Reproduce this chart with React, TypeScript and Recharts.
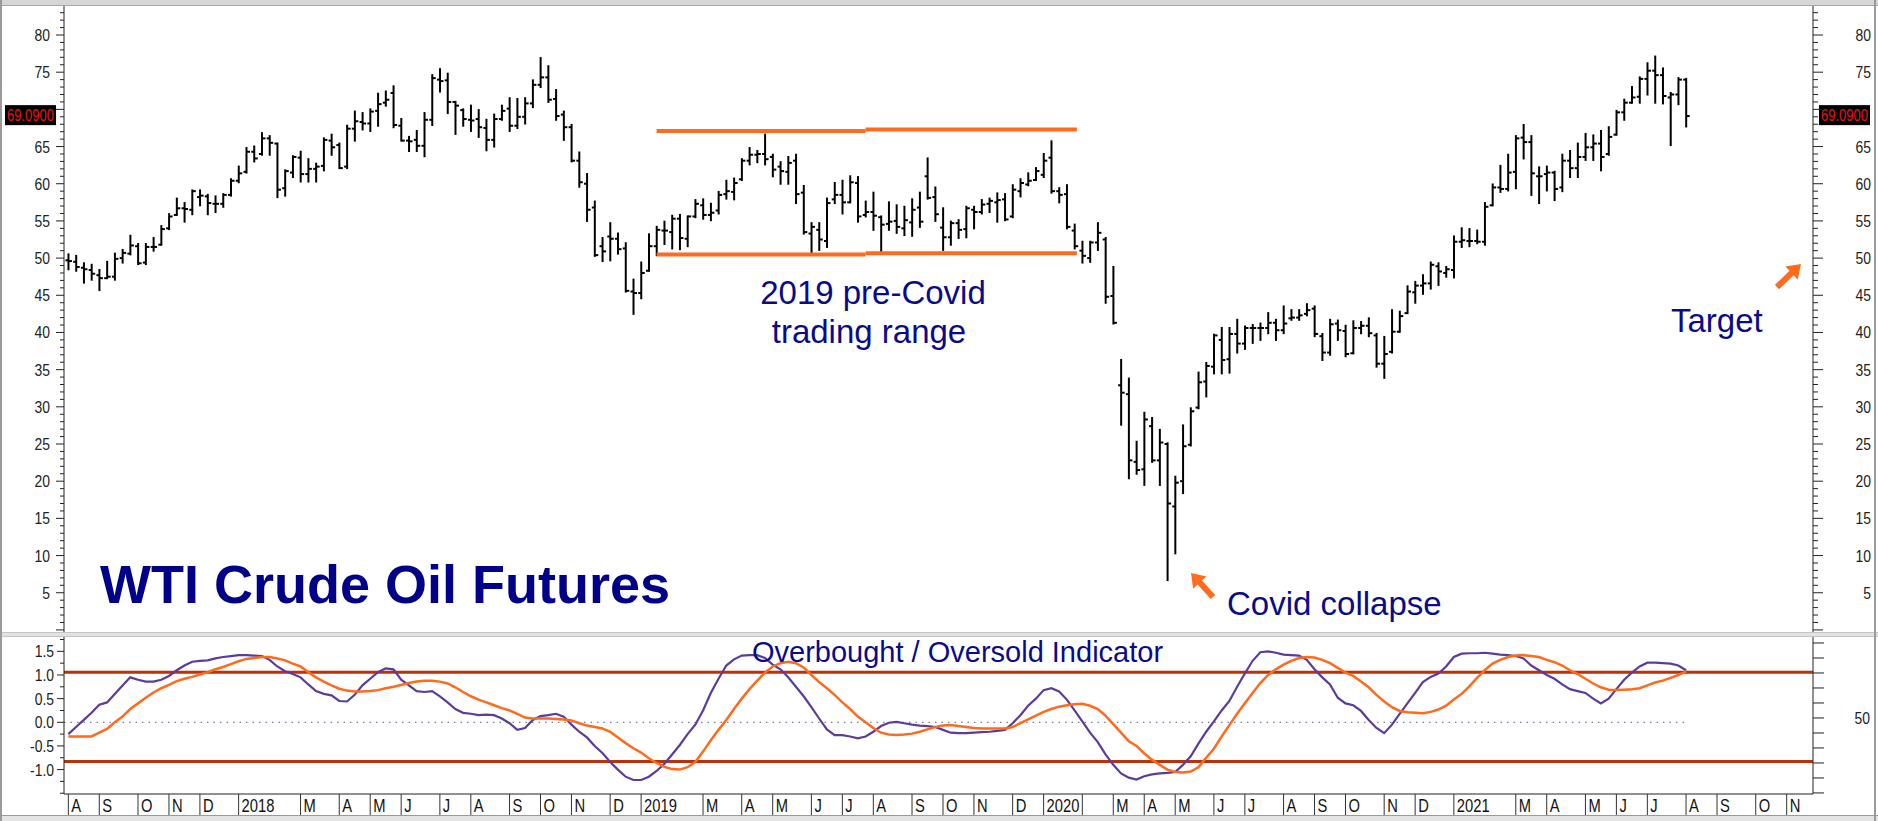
import React from 'react';
import { ComposedChart, Bar, Line, XAxis, YAxis, ReferenceLine } from 'recharts';

// weekly WTI bars, Aug 2017 -> Aug 2021 (index 0 = first week of Aug 2017)
const opens = [
  49.7, 49.5, 48.7, 48.4, 47.7, 47.3, 47.5, 50.0, 50.6, 51.6,
  49.4, 51.5, 51.8, 54.0, 55.8, 56.7, 56.5, 58.2, 58.3, 57.3,
  57.3, 58.5, 60.4, 61.6, 64.3, 64.0, 66.1, 65.4, 59.4, 61.5,
  63.5, 61.3, 62.0, 62.4, 65.8, 65.2, 62.3, 67.4, 68.3, 68.1,
  69.8, 70.9, 72.2, 67.8, 65.8, 65.9, 65.1, 68.6, 74.0, 73.9,
  71.0, 69.9, 68.6, 68.7, 67.5, 65.9, 68.7, 70.1, 67.8, 69.0,
  70.8, 73.3, 74.3, 71.4, 69.3, 67.6, 63.1, 60.0, 56.8, 51.6,
  52.9, 52.6, 51.3, 45.5, 45.3, 48.3, 51.6, 53.7, 53.5, 55.3,
  52.6, 55.6, 57.1, 55.8, 56.4, 58.6, 58.9, 60.6, 63.1, 63.9,
  64.0, 63.6, 62.3, 61.6, 63.1, 58.8, 53.3, 53.8, 52.3, 57.9,
  58.5, 57.5, 60.1, 55.8, 56.2, 55.5, 54.6, 55.0, 54.0, 54.8,
  56.8, 61.0, 58.2, 54.1, 52.8, 54.7, 53.9, 56.5, 56.2, 57.3,
  57.5, 57.9, 55.6, 59.0, 59.9, 60.5, 61.2, 63.5, 59.0, 58.6,
  53.7, 51.0, 50.0, 52.1, 52.5, 44.9, 32.9, 31.7, 22.6, 21.6,
  27.4, 22.8, 25.0, 16.6, 20.0, 24.9, 29.9, 33.4, 35.4, 39.0,
  36.4, 39.8, 38.5, 40.6, 40.6, 40.6, 41.3, 40.3, 41.9, 42.0,
  42.5, 43.2, 39.5, 37.3, 41.2, 40.2, 37.2, 40.6, 40.9, 39.6,
  35.8, 37.4, 40.1, 42.6, 45.4, 46.3, 46.6, 48.9, 48.0, 48.4,
  52.2, 52.3, 52.3, 52.2, 57.1, 59.5, 59.3, 61.6, 66.2, 65.6,
  61.0, 61.3, 61.5, 59.5, 63.1, 62.1, 63.6, 64.9, 65.4, 64.0,
  66.6, 69.6, 70.9, 71.7, 74.1, 75.2, 74.6, 71.6, 72.0, 74.0,
];
const highs = [
  50.5, 50.3, 49.3, 49.1, 48.4, 49.5, 50.6, 51.1, 53.0, 51.9,
  51.9, 52.7, 54.3, 55.9, 58.0, 57.4, 59.1, 59.1, 58.5, 58.3,
  58.6, 60.6, 62.3, 64.8, 65.0, 66.8, 66.4, 65.4, 61.8, 63.7,
  64.3, 63.3, 62.7, 66.1, 66.6, 65.4, 67.8, 69.7, 69.5, 70.0,
  72.1, 72.4, 73.1, 68.7, 66.3, 67.1, 69.5, 74.6, 75.4, 74.8,
  71.0, 70.0, 70.5, 69.9, 68.6, 69.3, 70.5, 71.5, 71.4, 71.5,
  73.9, 76.9, 75.8, 72.6, 69.7, 67.9, 64.2, 61.3, 57.6, 52.7,
  54.7, 53.3, 52.0, 47.1, 49.4, 53.2, 54.2, 54.9, 55.7, 55.8,
  55.6, 57.8, 57.9, 57.3, 58.9, 60.4, 60.7, 63.3, 64.8, 64.4,
  66.6, 63.9, 62.9, 63.6, 63.9, 59.7, 54.7, 54.7, 58.0, 60.1,
  60.4, 61.0, 60.9, 57.6, 58.8, 55.6, 57.5, 57.1, 56.9, 57.9,
  58.8, 63.4, 59.5, 56.7, 54.9, 55.1, 56.9, 56.9, 57.8, 58.0,
  58.7, 58.6, 59.8, 60.6, 61.4, 62.1, 64.0, 65.7, 59.4, 59.8,
  54.5, 52.2, 52.2, 54.7, 52.7, 48.8, 36.3, 33.8, 25.3, 29.2,
  28.5, 26.9, 25.1, 20.6, 27.5, 29.8, 34.6, 35.9, 39.7, 40.6,
  40.6, 41.7, 40.8, 41.0, 41.2, 42.6, 41.7, 43.5, 43.0, 43.0,
  43.8, 43.5, 39.8, 41.7, 41.6, 40.9, 41.5, 41.4, 41.9, 39.8,
  39.4, 43.0, 42.8, 46.2, 46.8, 47.7, 49.4, 49.3, 48.8, 52.9,
  54.0, 53.9, 53.7, 57.4, 59.9, 62.4, 63.9, 66.4, 67.9, 66.4,
  62.2, 62.3, 61.6, 63.9, 64.4, 65.4, 66.7, 66.5, 67.1, 67.6,
  69.8, 71.3, 73.0, 74.3, 76.2, 77.1, 75.5, 72.2, 74.2, 74.1,
];
const lows = [
  48.5, 48.3, 46.7, 47.1, 45.7, 47.3, 47.1, 49.4, 50.5, 49.2,
  49.2, 51.0, 51.8, 53.9, 55.8, 54.9, 55.9, 57.1, 55.9, 56.2,
  56.9, 58.4, 60.2, 61.5, 63.0, 63.9, 63.9, 58.2, 58.4, 60.9,
  60.3, 60.3, 60.3, 61.8, 63.9, 62.1, 62.1, 65.8, 67.3, 67.1,
  67.8, 70.5, 67.6, 65.8, 64.4, 64.4, 63.7, 67.9, 72.4, 69.5,
  66.7, 67.8, 67.1, 66.3, 64.5, 65.0, 68.6, 67.1, 67.5, 68.1,
  70.3, 73.0, 71.0, 68.6, 65.9, 63.0, 59.6, 55.0, 50.3, 49.6,
  49.7, 50.6, 45.5, 42.5, 44.6, 48.3, 50.4, 51.9, 51.3, 51.2,
  51.6, 55.5, 55.3, 55.1, 56.0, 58.0, 57.9, 60.5, 62.6, 62.9,
  62.6, 61.0, 60.0, 60.0, 57.4, 53.3, 50.7, 51.1, 51.5, 57.4,
  56.0, 57.5, 54.9, 55.6, 53.8, 50.7, 53.8, 53.4, 53.1, 53.0,
  54.2, 58.0, 55.0, 51.1, 51.8, 52.7, 52.8, 54.0, 56.0, 56.2,
  54.9, 55.1, 55.5, 58.3, 59.8, 60.5, 60.9, 58.8, 57.5, 54.0,
  51.3, 49.4, 49.5, 51.1, 44.0, 41.2, 27.6, 20.4, 21.0, 19.5,
  22.6, 19.5, 6.7, 10.3, 18.4, 24.8, 29.8, 31.4, 34.5, 34.5,
  34.6, 37.3, 37.8, 38.6, 39.0, 39.9, 39.0, 39.9, 41.7, 41.7,
  42.3, 39.5, 36.3, 37.0, 39.0, 36.8, 37.2, 39.9, 39.5, 35.4,
  33.9, 37.3, 40.1, 42.6, 44.0, 45.2, 45.9, 46.4, 47.5, 47.4,
  51.5, 51.6, 52.0, 51.8, 57.1, 58.9, 59.1, 59.4, 63.4, 58.5,
  57.4, 59.1, 57.8, 59.0, 60.9, 60.9, 63.2, 63.2, 61.8, 63.9,
  66.6, 68.6, 70.9, 70.9, 72.0, 70.9, 70.8, 65.2, 70.7, 67.7,
];
const closes = [
  49.6, 48.8, 48.5, 47.9, 47.3, 47.5, 49.9, 50.7, 51.7, 49.3,
  51.5, 51.5, 53.9, 55.6, 56.7, 56.6, 59.0, 58.4, 57.4, 57.3,
  58.5, 60.4, 61.4, 64.3, 63.4, 66.1, 65.5, 59.2, 61.7, 63.6,
  61.3, 62.0, 62.3, 65.9, 64.9, 62.1, 67.4, 68.4, 68.1, 69.7,
  70.7, 71.3, 67.9, 65.8, 65.7, 65.1, 68.6, 74.2, 73.8, 71.0,
  70.5, 68.7, 68.5, 67.6, 65.9, 68.7, 69.8, 67.8, 69.0, 70.8,
  73.3, 74.3, 71.3, 69.1, 67.6, 63.1, 60.2, 56.5, 50.4, 50.9,
  52.6, 51.2, 45.6, 45.3, 48.0, 51.6, 53.8, 53.7, 55.3, 52.7,
  55.6, 57.3, 55.8, 56.1, 58.5, 59.0, 60.1, 63.1, 63.9, 64.0,
  63.3, 61.9, 61.7, 62.8, 58.6, 53.5, 54.2, 52.5, 57.4, 58.5,
  57.5, 60.2, 55.6, 56.2, 55.7, 54.5, 54.9, 54.2, 55.1, 56.5,
  54.9, 58.1, 55.9, 52.8, 54.7, 53.8, 56.7, 56.2, 57.2, 57.7,
  57.8, 55.2, 59.2, 60.1, 60.4, 61.7, 63.1, 59.0, 58.5, 54.2,
  51.6, 50.3, 52.1, 53.4, 44.8, 41.3, 31.9, 22.8, 21.5, 28.3,
  22.8, 25.2, 17.0, 19.8, 24.7, 29.4, 33.3, 35.5, 39.6, 36.3,
  39.8, 38.5, 40.6, 40.6, 40.6, 41.3, 40.3, 41.2, 42.0, 42.3,
  43.0, 39.8, 37.3, 41.1, 40.3, 37.1, 40.6, 40.9, 39.9, 35.8,
  37.1, 40.1, 42.2, 45.5, 46.3, 46.6, 49.1, 48.2, 48.5, 52.2,
  52.4, 52.3, 52.2, 56.9, 59.5, 59.3, 61.5, 66.1, 65.6, 61.4,
  61.0, 61.5, 59.3, 63.1, 62.1, 63.6, 64.9, 65.4, 63.6, 66.3,
  69.6, 70.9, 71.6, 74.1, 75.2, 74.6, 71.8, 72.0, 74.0, 69.1,
];

// overbought / oversold indicator (fast = purple, slow = orange)
const fastLine = [
  -0.25, -0.10, 0.05, 0.20, 0.37, 0.42, 0.60, 0.78, 0.95, 0.90,
  0.86, 0.86, 0.90, 0.98, 1.10, 1.20, 1.28, 1.30, 1.31, 1.35,
  1.38, 1.40, 1.42, 1.42, 1.41, 1.40, 1.32, 1.18, 1.08, 1.02,
  0.95, 0.80, 0.66, 0.60, 0.57, 0.45, 0.44, 0.58, 0.78, 0.92,
  1.06, 1.14, 1.12, 0.90, 0.78, 0.66, 0.64, 0.66, 0.55, 0.42,
  0.28, 0.20, 0.18, 0.15, 0.16, 0.15, 0.08, -0.02, -0.16, -0.12,
  0.05, 0.13, 0.15, 0.18, 0.12, -0.05, -0.20, -0.32, -0.50, -0.65,
  -0.84, -1.00, -1.15, -1.22, -1.22, -1.15, -1.03, -0.88, -0.68, -0.48,
  -0.25, -0.05, 0.25, 0.62, 0.92, 1.20, 1.33, 1.41, 1.42, 1.42,
  1.36, 1.22, 1.12, 0.95, 0.75, 0.55, 0.32, 0.08, -0.15, -0.27,
  -0.27, -0.30, -0.34, -0.30, -0.20, -0.08, -0.01, 0.01, -0.02, -0.05,
  -0.07, -0.08, -0.10, -0.16, -0.22, -0.23, -0.23, -0.22, -0.21, -0.20,
  -0.18, -0.16, -0.02, 0.15, 0.35, 0.50, 0.68, 0.72, 0.65, 0.48,
  0.25, 0.02, -0.22, -0.42, -0.68, -0.90, -1.08, -1.17, -1.21, -1.14,
  -1.10, -1.08, -1.07, -1.05, -0.90, -0.72, -0.45, -0.20, 0.02, 0.25,
  0.45, 0.75, 1.03, 1.30, 1.48, 1.50, 1.47, 1.43, 1.42, 1.41,
  1.32, 1.12, 0.95, 0.80, 0.52, 0.40, 0.36, 0.24, 0.05, -0.12,
  -0.23, -0.05, 0.18, 0.40, 0.62, 0.85, 0.96, 1.03, 1.18, 1.38,
  1.45, 1.46, 1.46, 1.47, 1.45, 1.43, 1.42, 1.40, 1.35, 1.20,
  1.10, 1.00, 0.92, 0.80, 0.70, 0.66, 0.62, 0.50, 0.40, 0.50,
  0.70, 0.90, 1.05, 1.18, 1.26, 1.26, 1.25, 1.24, 1.20, 1.10,
];
const slowLine = [
  -0.30, -0.30, -0.30, -0.30, -0.22, -0.14, 0.00, 0.12, 0.28, 0.40,
  0.52, 0.63, 0.72, 0.79, 0.87, 0.92, 0.96, 1.01, 1.06, 1.12,
  1.17, 1.23, 1.29, 1.34, 1.36, 1.38, 1.38, 1.35, 1.31, 1.24,
  1.18, 1.06, 0.95, 0.86, 0.78, 0.71, 0.67, 0.65, 0.65, 0.66,
  0.68, 0.72, 0.75, 0.79, 0.83, 0.86, 0.88, 0.88, 0.86, 0.82,
  0.74, 0.64, 0.55, 0.48, 0.42, 0.36, 0.30, 0.25, 0.18, 0.10,
  0.08, 0.08, 0.08, 0.07, 0.06, 0.04, -0.02, -0.07, -0.10, -0.13,
  -0.20, -0.32, -0.44, -0.55, -0.64, -0.76, -0.86, -0.94, -0.99, -1.00,
  -0.95, -0.84, -0.62, -0.38, -0.16, 0.05, 0.28, 0.50, 0.70, 0.88,
  1.05, 1.18, 1.25, 1.28, 1.25, 1.16, 1.00, 0.85, 0.72, 0.58,
  0.42, 0.28, 0.12, 0.00, -0.12, -0.22, -0.26, -0.27, -0.26, -0.24,
  -0.20, -0.15, -0.10, -0.07, -0.06, -0.08, -0.10, -0.12, -0.13, -0.13,
  -0.13, -0.13, -0.10, -0.02, 0.06, 0.14, 0.22, 0.28, 0.33, 0.36,
  0.38, 0.39, 0.35, 0.28, 0.14, -0.04, -0.22, -0.40, -0.50, -0.66,
  -0.79, -0.90, -1.00, -1.05, -1.06, -1.04, -0.95, -0.75, -0.56, -0.30,
  -0.06, 0.18, 0.40, 0.62, 0.83, 1.00, 1.12, 1.22, 1.30, 1.36,
  1.38, 1.37, 1.32, 1.25, 1.15, 1.05, 0.98, 0.86, 0.74, 0.58,
  0.44, 0.32, 0.24, 0.21, 0.20, 0.19, 0.22, 0.27, 0.35, 0.48,
  0.60, 0.76, 0.94, 1.10, 1.24, 1.32, 1.38, 1.41, 1.42, 1.40,
  1.38, 1.32, 1.27, 1.20, 1.10, 1.02, 0.92, 0.82, 0.74, 0.69,
  0.68, 0.69, 0.70, 0.72, 0.78, 0.84, 0.88, 0.94, 1.00, 1.07,
];

// month separators on the time axis (bar index where each month starts)
const monthStarts = [
  0, 4, 9, 13, 17, 22, 30, 35, 39, 43, 48, 52, 57, 61, 65, 70,
  74, 82, 87, 91, 96, 100, 104, 109, 113, 117, 122,
  126, 131, 135, 139, 143, 148, 152, 157, 161, 165, 170, 174,
  179, 187, 191, 196, 200, 204, 209, 213, 218, 222,
];
const monthLabels = [
  'A', 'S', 'O', 'N', 'D', '2018', 'M', 'A', 'M', 'J', 'J', 'A', 'S', 'O', 'N', 'D',
  '2019', 'M', 'A', 'M', 'J', 'J', 'A', 'S', 'O', 'N', 'D',
  '2020', '', 'M', 'A', 'M', 'J', 'J', 'A', 'S', 'O', 'N', 'D',
  '2021', 'M', 'A', 'M', 'J', 'J', 'A', 'S', 'O', 'N',
];

// 2019 trading range lines (drawn in two pieces like the original)
const rangeLines = [
  { from: 76, to: 103, y: 67.1 },
  { from: 103, to: 130.3, y: 67.3 },
  { from: 76, to: 103, y: 50.5 },
  { from: 103, to: 130.3, y: 50.65 },
];
const lastPrice = 69.09;

const oscTicks = [-1.5, -1.25, -1, -0.75, -0.5, -0.25, 0, 0.25, 0.5, 0.75, 1, 1.25, 1.5, 1.75];
const oscLevels = [1.06, -0.83];
const pctTicks = [0, 10, 20, 30, 40, 50, 60, 70, 80, 90, 100];
const priceTicks = Array.from({ length: 84 }, (_, k) => k);

const X_DOMAIN: [number, number] = [-0.56, 225.4];
const PRICE_DOMAIN: [number, number] = [-0.28, 83.9];
const OSC_DOMAIN: [number, number] = [-1.516, 1.803];
const PCT_DOMAIN: [number, number] = [-0.7, 104];

const SANS = "'Liberation Sans', Arial, sans-serif";
const NAVY = '#0a0a8c';
const ORANGE = '#ff6a1c';
const PURPLE = '#5b3c9c';
const RED_LEVEL = '#b8320c';

const rows = opens.map((o, i) => ({
  i,
  open: o,
  high: highs[i],
  low: lows[i],
  close: closes[i],
  fast: fastLine[i],
  slow: slowLine[i],
}));

// narrow axis text (the original uses a condensed face)
const NarrowText = ({ x, y, anchor, size, fill, children }: any) => (
  <g transform={`translate(${x},${y}) scale(0.82,1)`}>
    <text x={0} y={0} textAnchor={anchor} fontSize={size} fontFamily={SANS} fill={fill}>{children}</text>
  </g>
);

const OhlcShape = (props: any) => {
  const { x, y, width, height, payload } = props;
  if (x == null || y == null || !payload) return null;
  const cx = x + width / 2;
  const top = Math.min(y, y + height);
  const bottom = Math.max(y, y + height);
  const span = payload.high - payload.low;
  const k = span > 0 ? (bottom - top) / span : 0;
  const yo = top + (payload.high - payload.open) * k;
  const yc = top + (payload.high - payload.close) * k;
  return (
    <g>
      <line x1={cx} x2={cx} y1={top - 1} y2={bottom + 1} stroke="#000" strokeWidth={2} />
      <line x1={cx - 3} x2={cx} y1={yo} y2={yo} stroke="#000" strokeWidth={2} />
      <line x1={cx} x2={cx + 3.5} y1={yc} y2={yc} stroke="#000" strokeWidth={2} />
    </g>
  );
};

const PriceTickLeft = ({ x, y, payload }: any) => {
  const v = payload.value;
  const major = v % 5 === 0;
  return (
    <g>
      <line x1={x - (major ? 8 : 4)} x2={x} y1={y} y2={y} stroke="#222" />
      {major && v > 0 && v !== 70 && (
        <NarrowText x={x - 14} y={y + 6} anchor="end" size={17} fill="#222">{v}</NarrowText>
      )}
    </g>
  );
};

const PriceTickRight = ({ x, y, payload }: any) => {
  const v = payload.value;
  const major = v % 5 === 0;
  return (
    <g>
      <line x1={x} x2={x + (major ? 10 : 5)} y1={y} y2={y} stroke="#222" />
      {major && v > 0 && v !== 70 && (
        <NarrowText x={x + 58} y={y + 6} anchor="end" size={17} fill="#222">{v}</NarrowText>
      )}
    </g>
  );
};

const OscTickLeft = ({ x, y, payload }: any) => {
  const v = payload.value;
  const labelled = Math.abs(v * 2 - Math.round(v * 2)) < 1e-6 && v <= 1.5 && v >= -1;
  return (
    <g>
      <line x1={x - (labelled ? 7 : 4)} x2={x} y1={y} y2={y} stroke="#222" />
      {labelled && (
        <NarrowText x={x - 10} y={y + 6} anchor="end" size={17} fill="#222">{v.toFixed(1)}</NarrowText>
      )}
    </g>
  );
};

const PctTickRight = ({ x, y, payload }: any) => {
  const v = payload.value;
  return (
    <g>
      <line x1={x} x2={x + 11} y1={y} y2={y} stroke="#222" />
      {v === 50 && (
        <NarrowText x={x + 57} y={y + 6} anchor="end" size={17} fill="#222">{v}</NarrowText>
      )}
    </g>
  );
};

const MonthTick = ({ x, y, payload }: any) => {
  const k = monthStarts.indexOf(payload.value);
  const label = k >= 0 ? monthLabels[k] : '';
  return (
    <g>
      <line x1={x} x2={x} y1={y} y2={y + 21} stroke="#333" />
      <NarrowText x={x + 3} y={y + 18} anchor="start" size={18} fill="#111">{label}</NarrowText>
    </g>
  );
};

const PriceMarker = (props: any) => {
  const { x1, x2, y1 } = props;
  if (x1 == null) return null;
  const boxes = [x1 - 59, x2 + 6];
  return (
    <g>
      {boxes.map((bx, k) => (
        <g key={k}>
          <rect x={bx} y={y1 - 11} width={51} height={20} fill="#000" />
          <text
            x={bx + 2}
            y={y1 + 5}
            textLength={47}
            lengthAdjust="spacingAndGlyphs"
            fontSize={16}
            fontFamily={SANS}
            fill="#e8141c"
          >
            {lastPrice.toFixed(4)}
          </text>
        </g>
      ))}
    </g>
  );
};

function arrowPoints(sx: number, sy: number, tx: number, ty: number) {
  const shaft = 6, headLen = 13, headW = 18;
  const dx = tx - sx, dy = ty - sy;
  const len = Math.hypot(dx, dy);
  const ux = dx / len, uy = dy / len;
  const px = -uy, py = ux;
  const bx = tx - ux * headLen, by = ty - uy * headLen;
  const pts = [
    [sx + px * shaft / 2, sy + py * shaft / 2],
    [bx + px * shaft / 2, by + py * shaft / 2],
    [bx + px * headW / 2, by + py * headW / 2],
    [tx, ty],
    [bx - px * headW / 2, by - py * headW / 2],
    [bx - px * shaft / 2, by - py * shaft / 2],
    [sx - px * shaft / 2, sy - py * shaft / 2],
  ];
  return pts.map((p) => p.join(',')).join(' ');
}

export default function App() {
  return (
    <div style={{ position: 'absolute', left: 0, top: 0, width: 1878, height: 821, background: '#fff', overflow: 'hidden' }}>
      {/* window frame */}
      <svg width={1878} height={821} style={{ position: 'absolute', left: 0, top: 0 }}>
        <rect x={0} y={0} width={1878} height={5} fill="#d6d6d6" />
        <line x1={0} x2={1878} y1={5.5} y2={5.5} stroke="#a8a8a8" />
        <rect x={0} y={632} width={1878} height={5} fill="#e2e2e2" />
        <line x1={0} x2={1878} y1={632.5} y2={632.5} stroke="#c4c4c4" />
        <line x1={0} x2={1878} y1={636.5} y2={636.5} stroke="#c4c4c4" />
        <rect x={0} y={815} width={1878} height={6} fill="#e4e4e4" />
        <line x1={0} x2={1878} y1={815.5} y2={815.5} stroke="#9a9a9a" />
        <line x1={1} x2={1} y1={0} y2={821} stroke="#9a9a9a" strokeWidth={2} />
        <line x1={1875} x2={1875} y1={0} y2={821} stroke="#9a9a9a" strokeWidth={2} />
      </svg>

      <div style={{ position: 'absolute', left: 0, top: 0 }}>
        <ComposedChart width={1878} height={632} data={rows} margin={{ top: 6, right: 0, bottom: 0, left: 0 }}>
          <XAxis xAxisId="t" type="number" dataKey="i" domain={X_DOMAIN} allowDataOverflow hide />
          <YAxis
            yAxisId="p"
            orientation="left"
            width={64}
            type="number"
            domain={PRICE_DOMAIN}
            allowDataOverflow
            ticks={priceTicks}
            interval={0}
            tickSize={0}
            tickMargin={0}
            tickLine={false}
            axisLine={{ stroke: '#222' }}
            tick={<PriceTickLeft />}
          />
          <YAxis
            yAxisId="p2"
            orientation="right"
            width={65}
            type="number"
            domain={PRICE_DOMAIN}
            allowDataOverflow
            ticks={priceTicks}
            interval={0}
            tickSize={0}
            tickMargin={0}
            tickLine={false}
            axisLine={{ stroke: '#222' }}
            tick={<PriceTickRight />}
          />
          {rangeLines.map((r, k) => (
            <ReferenceLine
              key={k}
              xAxisId="t"
              yAxisId="p"
              segment={[{ x: r.from, y: r.y }, { x: r.to, y: r.y }]}
              stroke={ORANGE}
              strokeWidth={4}
            />
          ))}
          <Bar
            xAxisId="t"
            yAxisId="p"
            dataKey={(d: any) => [d.low, d.high]}
            barSize={6}
            shape={<OhlcShape />}
            isAnimationActive={false}
          />
          <ReferenceLine xAxisId="t" yAxisId="p" y={lastPrice} stroke="none" shape={(p: any) => <PriceMarker {...p} />} />
        </ComposedChart>
      </div>

      <div style={{ position: 'absolute', left: 0, top: 637 }}>
        <ComposedChart width={1878} height={178} data={rows} margin={{ top: 0, right: 0, bottom: 0, left: 0 }}>
          <XAxis
            xAxisId="t"
            type="number"
            dataKey="i"
            domain={X_DOMAIN}
            allowDataOverflow
            ticks={monthStarts}
            interval={0}
            height={21}
            tickSize={0}
            tickMargin={0}
            tickLine={false}
            axisLine={{ stroke: '#222' }}
            tick={<MonthTick />}
          />
          <YAxis
            yAxisId="o"
            orientation="left"
            width={64}
            type="number"
            domain={OSC_DOMAIN}
            allowDataOverflow
            ticks={oscTicks}
            interval={0}
            tickSize={0}
            tickMargin={0}
            tickLine={false}
            axisLine={{ stroke: '#222' }}
            tick={<OscTickLeft />}
          />
          <YAxis
            yAxisId="pct"
            orientation="right"
            width={65}
            type="number"
            domain={PCT_DOMAIN}
            allowDataOverflow
            ticks={pctTicks}
            interval={0}
            tickSize={0}
            tickMargin={0}
            tickLine={false}
            axisLine={{ stroke: '#222' }}
            tick={<PctTickRight />}
          />
          <ReferenceLine
            xAxisId="t"
            yAxisId="o"
            segment={[{ x: X_DOMAIN[0], y: 0 }, { x: 209, y: 0 }]}
            stroke="#4a5a9a"
            strokeDasharray="1.5 5"
          />
          {oscLevels.map((lv) => (
            <ReferenceLine key={lv} xAxisId="t" yAxisId="o" y={lv} stroke={RED_LEVEL} strokeWidth={3} />
          ))}
          <Line
            xAxisId="t"
            yAxisId="o"
            type="linear"
            dataKey="fast"
            stroke={PURPLE}
            strokeWidth={2.2}
            dot={false}
            isAnimationActive={false}
          />
          <Line
            xAxisId="t"
            yAxisId="o"
            type="linear"
            dataKey="slow"
            stroke={ORANGE}
            strokeWidth={2.5}
            dot={false}
            isAnimationActive={false}
          />
        </ComposedChart>
      </div>

      {/* annotations */}
      <svg width={1878} height={821} style={{ position: 'absolute', left: 0, top: 0, pointerEvents: 'none' }}>
        <text x={100} y={603} fontSize={54} fontWeight="bold" fontFamily={SANS} fill="#000088">WTI Crude Oil Futures</text>
        <text x={873} y={304} textAnchor="middle" fontSize={33} fontFamily={SANS} fill={NAVY}>2019 pre-Covid</text>
        <text x={869} y={343} textAnchor="middle" fontSize={33} fontFamily={SANS} fill={NAVY}>trading range</text>
        <text x={1227} y={615} fontSize={33} fontFamily={SANS} fill={NAVY}>Covid collapse</text>
        <text x={1671} y={332} fontSize={33} fontFamily={SANS} fill={NAVY}>Target</text>
        <text x={752} y={662} fontSize={29} fontFamily={SANS} fill={NAVY}>Overbought / Oversold Indicator</text>
        <polygon points={arrowPoints(1213, 597, 1191, 573)} fill={ORANGE} />
        <polygon points={arrowPoints(1777, 287, 1801, 264)} fill={ORANGE} />
      </svg>
    </div>
  );
}
